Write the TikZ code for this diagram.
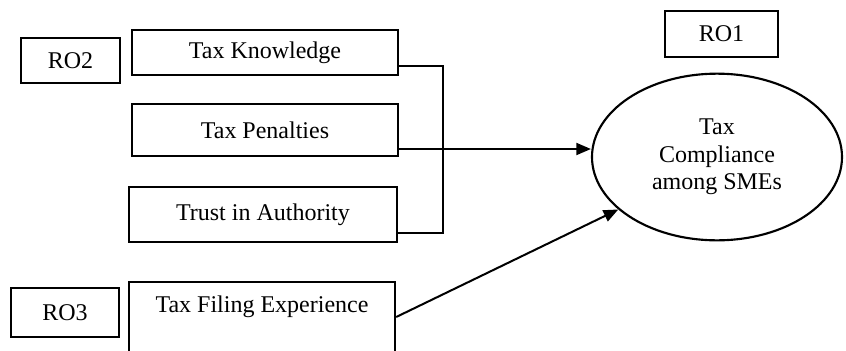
\documentclass[tikz,border=0pt]{standalone}
\usepackage{fontspec}
\setmainfont{Liberation Serif}
\usetikzlibrary{arrows.meta, shapes.geometric}
\tikzset{
    % node styles
    factor/.style = {draw, line width=1.8pt, minimum width=199.5pt, font=\fontsize{18pt}{20.5pt}\selectfont},
    objective/.style = {draw, line width=1.8pt, inner sep=0pt, font=\fontsize{18pt}{20.5pt}\selectfont},
    outcome/.style = {ellipse, draw, line width=1.6pt, inner sep=0pt, minimum width=187.5pt, minimum height=125pt, align=center, font=\fontsize{18pt}{20.5pt}\selectfont},
    % arrow styles
    link/.style = {line width=1.5pt},
    effect/.style = {-{Triangle[length=11pt, width=9pt]}, line width=1.5pt}
}
\begin{document}
\begin{tikzpicture}[x=0.75pt, y=-0.75pt]
    \useasboundingbox (0,0) rectangle (846,350);

    % independent variables
    \node[factor, minimum height=34pt] (tk) at (265,52.5) {Tax Knowledge};
    \node[factor, minimum height=39pt] (tp) at (265,130) {Tax Penalties};
    \node[factor, minimum width=201pt, minimum height=41pt] (ta) at (263,214.5) {Trust in Authority};
    \node[factor, anchor=north, text height=19.5pt, text depth=60pt] (tfe) at (262,281) {Tax Filing Experience};

    % research objectives
    \node[objective, minimum width=74pt, minimum height=34pt] (ro2) at (70.5,60.5) {RO2};
    \node[objective, minimum width=85pt, minimum height=34.5pt] (ro1) at (721.5,34) {RO1};
    \node[objective, minimum width=81pt, minimum height=37pt] (ro3) at (65,312.5) {RO3};

    % dependent variable
    \node[outcome] (tc) at (717,157) {Tax\\Compliance\\among SMEs};

    % connectors
    \coordinate (jn) at (443,149);
    \draw[link] ([yshift=-10pt]tk.east) -| (jn) |- ([yshift=-13.5pt]ta.east);
    \draw[effect] (tp.east |- jn) -- (jn -| tc.west);
    \draw[effect] ([yshift=-27pt]tfe.north east) -- (tc.208);
\end{tikzpicture}
\end{document}
